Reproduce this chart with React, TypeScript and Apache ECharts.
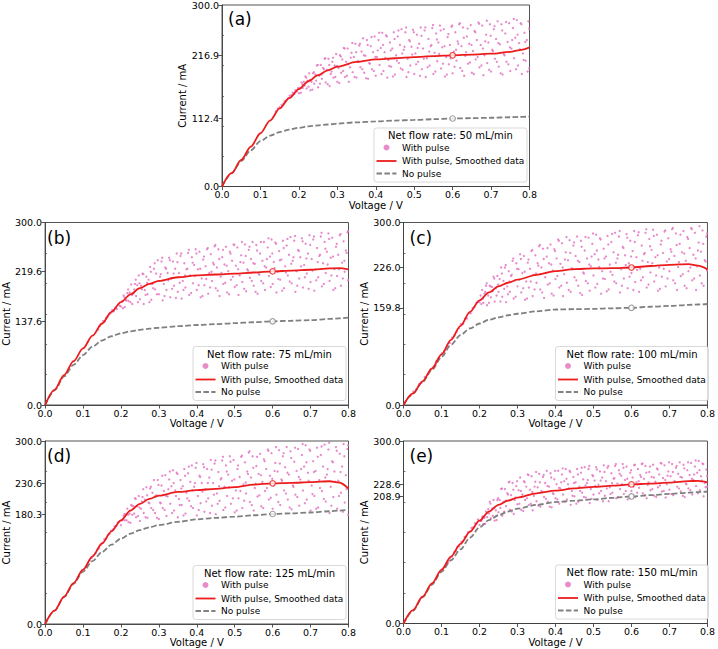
import { useEffect, useRef } from "react";
import * as echarts from "echarts";

// Voltage grid (V) used by the smoothed and no-pulse curves
const voltage = [0, 0.025, 0.05, 0.075, 0.1, 0.125, 0.15, 0.175, 0.2, 0.225, 0.25, 0.275, 0.3, 0.35, 0.4, 0.45, 0.5, 0.55, 0.6, 0.65, 0.7, 0.75, 0.775, 0.8];

// Current (mA) — smoothed pulsed data and steady (no pulse) data
const smoothed50 = [0, 22, 44, 66, 88, 109, 129, 146, 161, 174, 184, 192, 198, 206, 210, 212, 214, 215.5, 216.9, 218, 219.5, 222.5, 225.5, 230];
const noPulse50 = [0, 22, 42, 60, 75, 84, 90, 94, 97, 99.5, 101, 102.5, 104, 106, 107.5, 109, 110, 111.2, 112.4, 113, 113.6, 114.5, 115, 115.6];
const smoothed75 = [0, 25, 49, 72, 93, 114, 134, 153, 169, 182, 192, 199, 204, 210, 213, 214.5, 216, 217.8, 219.6, 221, 222.3, 224.5, 225, 223];
const noPulse75 = [0, 24, 47, 66, 82, 96, 106, 113, 118, 121, 123.5, 125.5, 127, 129.5, 131.5, 133, 134.5, 136, 137.6, 138.5, 139.5, 141.5, 142.5, 143.5];
const smoothed100 = [0, 19, 39, 60, 83, 107, 130, 153, 172, 185, 195, 201, 206, 214, 220, 223.5, 224.5, 225, 226.0, 228.5, 230.5, 231.5, 229, 223];
const noPulse100 = [0, 19, 38, 58, 79, 99, 115, 126, 134, 140, 144, 147.5, 150, 154, 157, 157.5, 158, 159, 159.8, 161.5, 163, 164.5, 165.2, 166];
const smoothed125 = [0, 22, 45, 67, 89, 111, 132, 152, 170, 186, 197, 205, 210.5, 216.5, 219.5, 221.5, 224.5, 228.5, 230.6, 231.5, 232.5, 234, 232, 222];
const noPulse125 = [0, 22, 44, 66, 86, 103, 118, 130, 140, 148, 154, 158.5, 162, 167.5, 171.5, 174, 176, 178.3, 180.3, 181.5, 182.8, 184.8, 186, 187];
const smoothed150 = [0, 22, 44, 66, 88, 110, 131, 151, 169, 184, 195, 202, 207, 214, 218.5, 222, 224.5, 226.5, 228.6, 230, 231.5, 234, 234.5, 232];
const noPulse150 = [0, 21, 43, 64, 85, 104, 122, 141, 158, 170, 178, 184, 189, 195, 199.5, 202, 204, 206.5, 208.9, 211, 213, 215, 216, 217];

// Raw pulsed measurements: [voltage in mV, current in mA]
const pulse50 = [
  [140, 124], [145, 129], [150, 131], [155, 135], [160, 137], [163, 141], [168, 143], [172, 146], [176, 150], [180, 151], [184, 155], [188, 153], [191, 159], [195, 157], [198, 163],
  [200, 154], [203, 163], [207, 172], [210, 163], [213, 173], [217, 182], [220, 162], [223, 175], [227, 187], [230, 159], [233, 173], [237, 187], [240, 170], [243, 185], [247, 200],
  [250, 164], [253, 183], [257, 201], [260, 178], [263, 196], [267, 211], [270, 172], [273, 193], [277, 211], [280, 166], [283, 186], [287, 206], [290, 180], [293, 200], [297, 219],
  [300, 173], [303, 196], [307, 217], [310, 188], [313, 210], [317, 229], [320, 181], [323, 206], [327, 228], [330, 173], [333, 197], [337, 221], [340, 189], [343, 214], [347, 236],
  [350, 180], [353, 207], [357, 233], [360, 197], [363, 223], [367, 245], [370, 188], [373, 216], [377, 242], [380, 178], [383, 204], [387, 232], [390, 194], [393, 222], [397, 248],
  [400, 183], [403, 214], [407, 242], [410, 201], [413, 229], [417, 254], [420, 191], [423, 222], [427, 250], [430, 180], [433, 209], [437, 238], [440, 198], [443, 228], [447, 255],
  [450, 185], [453, 217], [457, 248], [460, 204], [463, 234], [467, 260], [470, 193], [473, 226], [477, 255], [480, 181], [483, 211], [487, 242], [490, 200], [493, 231], [497, 259],
  [500, 186], [503, 220], [507, 251], [510, 206], [513, 236], [517, 263], [520, 194], [523, 228], [527, 258], [530, 181], [533, 212], [537, 244], [540, 200], [543, 232], [547, 262],
  [550, 186], [553, 221], [557, 253], [560, 207], [563, 238], [567, 266], [570, 195], [573, 230], [577, 260], [580, 182], [583, 214], [587, 247], [590, 202], [593, 234], [597, 264],
  [600, 187], [603, 223], [607, 255], [610, 208], [613, 240], [617, 268], [620, 196], [623, 232], [627, 263], [630, 183], [633, 216], [637, 248], [640, 203], [643, 236], [647, 267],
  [650, 188], [653, 224], [657, 257], [660, 210], [663, 242], [667, 271], [670, 197], [673, 234], [677, 266], [680, 184], [683, 217], [687, 251], [690, 204], [693, 238], [697, 268],
  [700, 190], [703, 226], [707, 260], [710, 211], [713, 244], [717, 273], [720, 198], [723, 235], [727, 268], [730, 185], [733, 219], [737, 253], [740, 206], [743, 239], [747, 270],
  [750, 191], [753, 228], [757, 262], [760, 212], [763, 246], [767, 275], [770, 200], [773, 237], [777, 270], [780, 186], [783, 220], [787, 254], [790, 208], [793, 242], [797, 273],
  [799, 195],
  [205, 155], [209, 169], [215, 167], [219, 180], [225, 165], [229, 176], [235, 160], [239, 189], [245, 175], [249, 201], [255, 170], [259, 185], [265, 194], [269, 212],
  [275, 169], [279, 201], [285, 190], [289, 213], [295, 181], [299, 199], [305, 171], [309, 215], [315, 191], [319, 228], [325, 183], [329, 202], [335, 213], [339, 237],
  [345, 181], [349, 222], [355, 206], [359, 236], [365, 194], [369, 217], [375, 179], [379, 234], [385, 203], [389, 247], [395, 191], [399, 214], [405, 225], [409, 254],
  [415, 186], [419, 234], [425, 213], [429, 248], [435, 199], [439, 225], [445, 182], [449, 244], [455, 208], [459, 258], [465, 195], [469, 220], [475, 231], [479, 263],
  [485, 189], [489, 240], [495, 218], [499, 255], [505, 202], [509, 229], [515, 183], [519, 249], [525, 211], [529, 263], [535, 197], [539, 223], [545, 234], [549, 267],
  [555, 190], [559, 243], [565, 219], [569, 258], [575, 203], [579, 232], [585, 185], [589, 252], [595, 212], [599, 266], [605, 198], [609, 226], [615, 236], [619, 270],
  [625, 191], [629, 246], [635, 222], [639, 261], [645, 205], [649, 234], [655, 186], [659, 255], [665, 214], [669, 269], [675, 200], [679, 228], [685, 240], [689, 274],
  [695, 193], [699, 249], [705, 224], [709, 265], [715, 206], [719, 237], [725, 187], [729, 258], [735, 217], [739, 272], [745, 202], [749, 230], [755, 242], [759, 277],
  [765, 194], [769, 251], [775, 227], [779, 268], [785, 209], [789, 239], [795, 190], [799, 261],
];
const pulse75 = [
  [140, 124], [144, 130], [149, 133], [153, 138], [157, 137], [161, 143], [165, 145], [169, 149], [173, 151], [177, 156], [181, 154], [185, 160], [189, 158], [193, 165], [197, 163],
  [200, 162], [203, 171], [207, 180], [210, 161], [213, 172], [217, 184], [220, 171], [223, 185], [227, 198], [230, 166], [233, 183], [237, 199], [240, 179], [243, 197], [247, 213],
  [250, 174], [253, 196], [257, 216], [260, 166], [263, 189], [267, 211], [270, 182], [273, 206], [277, 227], [280, 173], [283, 199], [287, 224], [290, 190], [293, 216], [297, 238],
  [300, 182], [303, 211], [307, 236], [310, 172], [313, 199], [317, 226], [320, 189], [323, 217], [327, 242], [330, 177], [333, 208], [337, 236], [340, 196], [343, 224], [347, 249],
  [350, 186], [353, 217], [357, 245], [360, 175], [363, 204], [367, 233], [370, 193], [373, 223], [377, 250], [380, 181], [383, 213], [387, 243], [390, 200], [393, 230], [397, 256],
  [400, 189], [403, 223], [407, 252], [410, 177], [413, 208], [417, 239], [420, 197], [423, 228], [427, 256], [430, 183], [433, 217], [437, 248], [440, 204], [443, 234], [447, 261],
  [450, 192], [453, 226], [457, 256], [460, 179], [463, 211], [467, 243], [470, 199], [473, 231], [477, 260], [480, 185], [483, 220], [487, 252], [490, 206], [493, 237], [497, 264],
  [500, 194], [503, 229], [507, 259], [510, 181], [513, 213], [517, 246], [520, 202], [523, 234], [527, 264], [530, 187], [533, 223], [537, 255], [540, 209], [543, 240], [547, 268],
  [550, 196], [553, 232], [557, 263], [560, 183], [563, 216], [567, 249], [570, 204], [573, 237], [577, 268], [580, 189], [583, 226], [587, 259], [590, 212], [593, 244], [597, 272],
  [600, 199], [603, 235], [607, 267], [610, 185], [613, 219], [617, 253], [620, 206], [623, 239], [627, 270], [630, 192], [633, 228], [637, 262], [640, 213], [643, 247], [647, 276],
  [650, 200], [653, 237], [657, 270], [660, 186], [663, 220], [667, 255], [670, 208], [673, 243], [677, 274], [680, 193], [683, 230], [687, 265], [690, 216], [693, 249], [697, 279],
  [700, 202], [703, 240], [707, 272], [710, 188], [713, 223], [717, 258], [720, 210], [723, 245], [727, 277], [730, 195], [733, 233], [737, 268], [740, 217], [743, 252], [747, 282],
  [750, 204], [753, 242], [757, 275], [760, 189], [763, 224], [767, 260], [770, 212], [773, 247], [777, 279], [780, 196], [783, 234], [787, 269], [790, 219], [793, 254], [797, 284],
  [799, 205],
  [205, 159], [209, 177], [215, 172], [219, 190], [225, 169], [229, 181], [235, 190], [239, 206], [245, 169], [249, 200], [255, 190], [259, 215], [265, 181], [269, 201],
  [275, 169], [279, 219], [285, 192], [289, 233], [295, 182], [299, 204], [305, 215], [309, 242], [315, 179], [319, 224], [325, 205], [329, 238], [335, 191], [339, 216],
  [345, 176], [349, 235], [355, 201], [359, 249], [365, 189], [369, 213], [375, 224], [379, 255], [385, 184], [389, 234], [395, 212], [399, 249], [405, 197], [409, 224],
  [415, 179], [419, 244], [425, 207], [429, 258], [435, 193], [439, 219], [445, 231], [449, 263], [455, 188], [459, 240], [465, 217], [469, 255], [475, 201], [479, 229],
  [485, 182], [489, 249], [495, 211], [499, 263], [505, 197], [509, 223], [515, 235], [519, 268], [525, 191], [529, 245], [535, 221], [539, 260], [545, 204], [549, 233],
  [555, 186], [559, 254], [565, 214], [569, 268], [575, 200], [579, 228], [585, 240], [589, 274], [595, 194], [599, 249], [605, 225], [609, 265], [615, 207], [619, 238],
  [625, 188], [629, 258], [635, 218], [639, 273], [645, 203], [649, 232], [655, 243], [659, 278], [665, 196], [669, 253], [675, 228], [679, 269], [685, 210], [689, 241],
  [695, 191], [699, 263], [705, 221], [709, 277], [715, 205], [719, 235], [725, 247], [729, 283], [735, 199], [739, 257], [745, 231], [749, 273], [755, 213], [759, 244],
  [765, 192], [769, 265], [775, 223], [779, 281], [785, 208], [789, 237], [795, 250], [799, 286],
];
const pulse100 = [
  [18, 15], [26, 22], [34, 26], [41, 34], [48, 37], [56, 46], [64, 50], [71, 58], [79, 63], [86, 72], [94, 76], [101, 85], [108, 89], [115, 98], [122, 102],
  [128, 111], [134, 115], [140, 121], [146, 126], [151, 133], [157, 133], [162, 142], [167, 142], [172, 151], [177, 151], [182, 159], [187, 161], [192, 168], [196, 169],
  [200, 169], [203, 180], [207, 189], [210, 168], [213, 183], [217, 196], [220, 164], [223, 180], [227, 196], [230, 177], [233, 194], [237, 211], [240, 170], [243, 192], [247, 212],
  [250, 186], [253, 207], [257, 226], [260, 178], [263, 204], [267, 226], [270, 169], [273, 195], [277, 220], [280, 186], [283, 212], [287, 237], [290, 175], [293, 205], [297, 233],
  [300, 195], [303, 223], [307, 248], [310, 185], [313, 217], [317, 245], [320, 173], [323, 203], [327, 234], [330, 193], [333, 224], [337, 253], [340, 179], [343, 214], [347, 246],
  [350, 201], [353, 233], [357, 261], [360, 190], [363, 226], [367, 257], [370, 176], [373, 210], [377, 244], [380, 198], [383, 233], [387, 264], [390, 183], [393, 221], [397, 256],
  [400, 207], [403, 241], [407, 272], [410, 193], [413, 232], [417, 266], [420, 179], [423, 215], [427, 251], [430, 201], [433, 238], [437, 271], [440, 186], [443, 225], [447, 262],
  [450, 210], [453, 245], [457, 277], [460, 196], [463, 235], [467, 270], [470, 181], [473, 218], [477, 254], [480, 204], [483, 241], [487, 275], [490, 188], [493, 228], [497, 265],
  [500, 213], [503, 248], [507, 280], [510, 199], [513, 239], [517, 274], [520, 183], [523, 220], [527, 257], [530, 207], [533, 244], [537, 278], [540, 190], [543, 231], [547, 268],
  [550, 214], [553, 251], [557, 283], [560, 200], [563, 241], [567, 277], [570, 185], [573, 223], [577, 260], [580, 208], [583, 246], [587, 281], [590, 192], [593, 233], [597, 270],
  [600, 217], [603, 253], [607, 286], [610, 202], [613, 243], [617, 279], [620, 186], [623, 224], [627, 262], [630, 210], [633, 248], [637, 283], [640, 193], [643, 235], [647, 273],
  [650, 218], [653, 255], [657, 288], [660, 203], [663, 243], [667, 280], [670, 188], [673, 226], [677, 264], [680, 211], [683, 250], [687, 285], [690, 195], [693, 236], [697, 274],
  [700, 220], [703, 256], [707, 289], [710, 205], [713, 245], [717, 282], [720, 189], [723, 227], [727, 265], [730, 212], [733, 251], [737, 286], [740, 196], [743, 237], [747, 276],
  [750, 220], [753, 258], [757, 291], [760, 205], [763, 247], [767, 283], [770, 189], [773, 228], [777, 267], [780, 213], [783, 252], [787, 287], [790, 196], [793, 238], [797, 277],
  [799, 221],
  [205, 166], [209, 175], [215, 186], [219, 200], [225, 168], [229, 195], [235, 187], [239, 208], [245, 180], [249, 198], [255, 170], [259, 216], [265, 191], [269, 230],
  [275, 182], [279, 203], [285, 214], [289, 241], [295, 178], [299, 224], [305, 206], [309, 240], [315, 192], [319, 219], [325, 175], [329, 239], [335, 203], [339, 255],
  [345, 190], [349, 216], [355, 229], [359, 263], [365, 185], [369, 240], [375, 217], [379, 258], [385, 200], [389, 231], [395, 180], [399, 253], [405, 212], [409, 270],
  [415, 196], [419, 226], [425, 239], [429, 276], [435, 189], [439, 250], [445, 223], [449, 267], [455, 205], [459, 237], [465, 184], [469, 260], [475, 216], [479, 276],
  [485, 200], [489, 231], [495, 244], [499, 282], [505, 193], [509, 254], [515, 227], [519, 272], [525, 208], [529, 241], [535, 187], [539, 264], [545, 219], [549, 281],
  [555, 203], [559, 234], [565, 247], [569, 286], [575, 196], [579, 258], [585, 230], [589, 275], [595, 211], [599, 244], [605, 189], [609, 268], [615, 222], [619, 284],
  [625, 205], [629, 237], [635, 250], [639, 289], [645, 198], [649, 261], [655, 233], [659, 278], [665, 213], [669, 246], [675, 191], [679, 270], [685, 224], [689, 287],
  [695, 208], [699, 240], [705, 252], [709, 291], [715, 200], [719, 263], [725, 235], [729, 280], [735, 215], [739, 249], [745, 192], [749, 273], [755, 226], [759, 289],
  [765, 208], [769, 241], [775, 254], [779, 294], [785, 200], [789, 265], [795, 236], [799, 282],
];
const pulse125 = [
  [118, 104], [123, 108], [128, 113], [133, 116], [138, 122], [142, 124], [147, 130], [152, 133], [156, 139], [161, 140], [165, 146], [170, 148], [174, 153], [179, 155], [183, 160], [188, 161], [192, 167], [196, 168],
  [200, 162], [203, 170], [207, 177], [210, 170], [213, 180], [217, 189], [220, 167], [223, 181], [227, 195], [230, 179], [233, 193], [237, 206], [240, 175], [243, 193], [247, 210],
  [250, 169], [253, 189], [257, 208], [260, 182], [263, 204], [267, 224], [270, 174], [273, 199], [277, 222], [280, 190], [283, 215], [287, 236], [290, 182], [293, 211], [297, 236],
  [300, 172], [303, 199], [307, 227], [310, 190], [313, 218], [317, 244], [320, 177], [323, 209], [327, 237], [330, 197], [333, 226], [337, 252], [340, 186], [343, 219], [347, 248],
  [350, 175], [353, 205], [357, 236], [360, 195], [363, 226], [367, 254], [370, 181], [373, 215], [377, 247], [380, 202], [383, 233], [387, 260], [390, 190], [393, 225], [397, 256],
  [400, 178], [403, 210], [407, 243], [410, 198], [413, 231], [417, 262], [420, 184], [423, 221], [427, 254], [430, 206], [433, 240], [437, 269], [440, 194], [443, 231], [447, 263],
  [450, 180], [453, 214], [457, 249], [460, 202], [463, 237], [467, 268], [470, 187], [473, 225], [477, 260], [480, 210], [483, 245], [487, 275], [490, 197], [493, 235], [497, 269],
  [500, 183], [503, 219], [507, 254], [510, 206], [513, 241], [517, 274], [520, 190], [523, 229], [527, 265], [530, 214], [533, 250], [537, 281], [540, 200], [543, 240], [547, 275],
  [550, 186], [553, 223], [557, 259], [560, 209], [563, 246], [567, 279], [570, 193], [573, 233], [577, 270], [580, 218], [583, 254], [587, 286], [590, 204], [593, 243], [597, 280],
  [600, 189], [603, 227], [607, 264], [610, 212], [613, 250], [617, 285], [620, 195], [623, 237], [627, 275], [630, 219], [633, 257], [637, 290], [640, 204], [643, 245], [647, 283],
  [650, 188], [653, 227], [657, 266], [660, 212], [663, 251], [667, 287], [670, 194], [673, 237], [677, 277], [680, 219], [683, 258], [687, 293], [690, 204], [693, 248], [697, 286],
  [700, 186], [703, 227], [707, 267], [710, 210], [713, 251], [717, 289], [720, 191], [723, 236], [727, 277], [730, 218], [733, 258], [737, 294], [740, 201], [743, 245], [747, 286],
  [750, 182], [753, 225], [757, 267], [760, 208], [763, 250], [767, 290], [770, 189], [773, 235], [777, 279], [780, 215], [783, 258], [787, 295], [790, 199], [793, 244], [797, 287],
  [799, 179],
  [205, 171], [209, 180], [215, 170], [219, 179], [225, 166], [229, 194], [235, 181], [239, 205], [245, 177], [249, 191], [255, 201], [259, 221], [265, 175], [269, 211],
  [275, 198], [279, 225], [285, 187], [289, 209], [295, 174], [299, 228], [305, 198], [309, 243], [315, 187], [319, 210], [325, 221], [329, 250], [335, 182], [339, 231],
  [345, 210], [349, 246], [355, 195], [359, 222], [365, 178], [369, 243], [375, 206], [379, 258], [385, 193], [389, 219], [395, 231], [399, 264], [405, 187], [409, 241],
  [415, 217], [419, 257], [425, 201], [429, 231], [435, 182], [439, 253], [445, 212], [449, 268], [455, 197], [459, 226], [465, 239], [469, 274], [475, 191], [479, 250],
  [485, 224], [489, 266], [495, 206], [499, 237], [505, 186], [509, 260], [515, 218], [519, 276], [525, 202], [529, 232], [535, 246], [539, 283], [545, 195], [549, 256],
  [555, 230], [559, 274], [565, 211], [569, 244], [575, 190], [579, 267], [585, 223], [589, 284], [595, 207], [599, 238], [605, 251], [609, 290], [615, 200], [619, 263],
  [625, 235], [629, 280], [635, 214], [639, 248], [645, 191], [649, 272], [655, 225], [659, 289], [665, 208], [669, 241], [675, 254], [679, 295], [685, 198], [689, 265],
  [695, 235], [699, 284], [705, 213], [709, 249], [715, 189], [719, 274], [725, 223], [729, 291], [735, 205], [739, 240], [745, 254], [749, 297], [755, 194], [759, 265],
  [765, 233], [769, 284], [775, 210], [779, 249], [785, 184], [789, 275], [795, 221], [799, 293],
];
const pulse150 = [
  [98, 85], [103, 90], [108, 93], [113, 99], [118, 101], [123, 108], [128, 110], [133, 117], [138, 119], [142, 126], [147, 127], [152, 134], [156, 135], [161, 142], [165, 143], [170, 150], [174, 151], [179, 157], [183, 158], [188, 165], [192, 164], [196, 171],
  [200, 162], [203, 169], [207, 175], [210, 163], [213, 174], [217, 184], [220, 175], [223, 188], [227, 200], [230, 173], [233, 189], [237, 203], [240, 169], [243, 186], [247, 203],
  [250, 183], [253, 203], [257, 221], [260, 177], [263, 200], [267, 221], [270, 193], [273, 214], [277, 232], [280, 187], [283, 211], [287, 231], [290, 180], [293, 203], [297, 226],
  [300, 196], [303, 219], [307, 240], [310, 187], [313, 212], [317, 234], [320, 203], [323, 225], [327, 245], [330, 195], [333, 220], [337, 242], [340, 186], [343, 210], [347, 233],
  [350, 201], [353, 224], [357, 246], [360, 192], [363, 218], [367, 241], [370, 208], [373, 231], [377, 251], [380, 200], [383, 225], [387, 247], [390, 191], [393, 214], [397, 237],
  [400, 206], [403, 229], [407, 251], [410, 197], [413, 222], [417, 245], [420, 212], [423, 234], [427, 254], [430, 204], [433, 229], [437, 251], [440, 195], [443, 218], [447, 241],
  [450, 209], [453, 232], [457, 254], [460, 200], [463, 225], [467, 248], [470, 215], [473, 237], [477, 257], [480, 207], [483, 231], [487, 254], [490, 198], [493, 221], [497, 244],
  [500, 212], [503, 235], [507, 257], [510, 203], [513, 228], [517, 250], [520, 218], [523, 240], [527, 260], [530, 210], [533, 234], [537, 256], [540, 201], [543, 224], [547, 247],
  [550, 215], [553, 238], [557, 259], [560, 206], [563, 230], [567, 252], [570, 221], [573, 243], [577, 262], [580, 213], [583, 236], [587, 258], [590, 204], [593, 226], [597, 248],
  [600, 218], [603, 240], [607, 260], [610, 208], [613, 232], [617, 254], [620, 223], [623, 244], [627, 262], [630, 214], [633, 238], [637, 259], [640, 206], [643, 228], [647, 249],
  [650, 219], [653, 241], [657, 261], [660, 210], [663, 233], [667, 255], [670, 224], [673, 245], [677, 264], [680, 217], [683, 239], [687, 260], [690, 207], [693, 229], [697, 250],
  [700, 220], [703, 242], [707, 262], [710, 211], [713, 234], [717, 256], [720, 225], [723, 246], [727, 265], [730, 217], [733, 240], [737, 261], [740, 208], [743, 230], [747, 252],
  [750, 222], [753, 244], [757, 264], [760, 212], [763, 236], [767, 258], [770, 226], [773, 248], [777, 267], [780, 219], [783, 242], [787, 263], [790, 209], [793, 231], [797, 253],
  [799, 225],
  [205, 169], [209, 176], [215, 164], [219, 181], [225, 181], [229, 197], [235, 177], [239, 190], [245, 170], [249, 206], [255, 190], [259, 222], [265, 184], [269, 202],
  [275, 212], [279, 233], [285, 184], [289, 220], [295, 207], [299, 234], [305, 197], [309, 218], [315, 185], [319, 232], [325, 206], [329, 244], [335, 197], [339, 216],
  [345, 225], [349, 249], [355, 194], [359, 232], [365, 216], [369, 244], [375, 205], [379, 226], [385, 192], [389, 240], [395, 213], [399, 251], [405, 204], [409, 223],
  [415, 232], [419, 255], [425, 200], [429, 238], [435, 222], [439, 249], [445, 210], [449, 231], [455, 197], [459, 245], [465, 218], [469, 256], [475, 208], [479, 227],
  [485, 236], [489, 259], [495, 205], [499, 242], [505, 226], [509, 253], [515, 214], [519, 235], [525, 201], [529, 249], [535, 222], [539, 259], [545, 213], [549, 231],
  [555, 239], [559, 262], [565, 208], [569, 246], [575, 229], [579, 256], [585, 218], [589, 238], [595, 206], [599, 252], [605, 225], [609, 261], [615, 215], [619, 234],
  [625, 241], [629, 263], [635, 211], [639, 248], [645, 232], [649, 258], [655, 221], [659, 240], [665, 208], [669, 253], [675, 227], [679, 263], [685, 218], [689, 236],
  [695, 243], [699, 265], [705, 213], [709, 249], [715, 233], [719, 259], [725, 222], [729, 241], [735, 210], [739, 255], [745, 229], [749, 265], [755, 219], [759, 238],
  [765, 245], [769, 268], [775, 214], [779, 252], [785, 235], [789, 262], [795, 224], [799, 243],
];

const panelLabels = ["(a)", "(b)", "(c)", "(d)", "(e)"];
const flowRates = [50, 75, 100, 125, 150];
const smoothedSets = [smoothed50, smoothed75, smoothed100, smoothed125, smoothed150];
const noPulseSets = [noPulse50, noPulse75, noPulse100, noPulse125, noPulse150];
const pulseSets = [pulse50, pulse75, pulse100, pulse125, pulse150];
const markedVoltage = 0.6;
const minorCurrentTicks = [50, 100, 150, 200, 250];

// Plot-area rectangles (px)
const rects = [
  { left: 222, top: 3.5, width: 307.5, height: 183 },
  { left: 41, top: 222.5, width: 307.5, height: 182.5 },
  { left: 403.5, top: 222.5, width: 307.5, height: 182.5 },
  { left: 41, top: 441, width: 307.5, height: 183 },
  { left: 403.5, top: 441, width: 307.5, height: 182.5 },
];

const FONT = "DejaVu Sans";
const AXIS = "#404040";
const RED = "#ec1c1c";
const GREY = "#808080";
const PINK = "#e377c2";
const DASH = [5.5, 2.4];

function buildOption() {
  const markIdx = voltage.indexOf(markedVoltage);
  const grid: any[] = [];
  const xAxis: any[] = [];
  const yAxis: any[] = [];
  const series: any[] = [];
  const graphic: any[] = [];

  rects.forEach((r, i) => {
    const smoothed = smoothedSets[i];
    const noPulse = noPulseSets[i];
    const markSmooth = smoothed[markIdx];
    const markNo = noPulse[markIdx];
    const yTicks = [0, markNo, markSmooth, 300];

    grid.push({ ...r, show: true, borderColor: AXIS, borderWidth: 0.9, backgroundColor: "transparent" });

    xAxis.push({
      type: "value", gridIndex: i, min: 0, max: 0.8, interval: 0.1,
      name: "Voltage / V", nameLocation: "middle", nameGap: 13.5,
      nameTextStyle: { fontFamily: FONT, fontSize: 10, color: "#000" },
      axisLine: { show: true, onZero: false, lineStyle: { color: AXIS, width: 0.9 } },
      axisTick: { show: true, length: 3.5, lineStyle: { color: AXIS, width: 0.9 } },
      axisLabel: { fontFamily: FONT, fontSize: 9.5, color: "#000", margin: 3, showMinLabel: true, showMaxLabel: true, formatter: (v: number) => v.toFixed(1) },
      splitLine: { show: false },
    });

    yAxis.push({
      type: "value", gridIndex: i, min: 0, max: 300,
      name: "Current / mA", nameLocation: "middle", nameGap: 27,
      nameTextStyle: { fontFamily: FONT, fontSize: 10, color: "#000" },
      axisLine: { show: true, onZero: false, lineStyle: { color: AXIS, width: 0.9 } },
      axisTick: { show: true, length: 3.5, customValues: yTicks, lineStyle: { color: AXIS, width: 0.9 } },
      axisLabel: { fontFamily: FONT, fontSize: 9.5, color: "#000", margin: 3, customValues: yTicks, formatter: (v: number) => v.toFixed(1) },
      splitLine: { show: false },
    });
    yAxis.push({
      type: "value", gridIndex: i, min: 0, max: 300,
      axisLine: { show: false },
      axisTick: { show: true, length: 2, customValues: minorCurrentTicks, lineStyle: { color: AXIS, width: 0.7 } },
      axisLabel: { show: false },
      splitLine: { show: false },
    });

    const yIdx = i * 2;
    series.push({
      name: "With pulse", type: "scatter", xAxisIndex: i, yAxisIndex: yIdx, z: 1,
      symbolSize: 2.3, silent: true,
      itemStyle: { color: PINK, opacity: 0.85 },
      data: pulseSets[i].map(([mv, ma]) => [mv / 1000, ma]),
    });
    series.push({
      name: "No pulse", type: "line", xAxisIndex: i, yAxisIndex: yIdx, z: 2,
      showSymbol: false, smooth: 0.3, smoothMonotone: "x", silent: true,
      lineStyle: { color: GREY, width: 1.8, type: DASH },
      data: voltage.map((v, k) => [v, noPulse[k]]),
    });
    series.push({
      name: "With pulse, Smoothed data", type: "line", xAxisIndex: i, yAxisIndex: yIdx, z: 3,
      showSymbol: false, smooth: 0.3, smoothMonotone: "x", silent: true,
      lineStyle: { color: RED, width: 1.8 },
      data: voltage.map((v, k) => [v, smoothed[k]]),
    });
    series.push({
      type: "scatter", xAxisIndex: i, yAxisIndex: yIdx, z: 4, silent: true,
      symbol: "circle", symbolSize: 5.5,
      data: [
        { value: [markedVoltage, markSmooth], itemStyle: { color: "#fff", borderColor: RED, borderWidth: 1.2 } },
        { value: [markedVoltage, markNo], itemStyle: { color: "#fff", borderColor: GREY, borderWidth: 1.1 } },
      ],
    });

    // panel tag
    graphic.push({
      type: "text", z: 100, x: r.left + 6, y: r.top + 15,
      style: { text: panelLabels[i], fontFamily: FONT, fontSize: 17, fill: "#000", verticalAlign: "middle", textVerticalAlign: "middle" },
    });

    // legend box
    const w = 153, h = 54;
    const x0 = r.left + r.width - 2.5 - w;
    const y0 = r.top + r.height - 4.5 - h;
    const rows = [y0 + 19.5, y0 + 33, y0 + 45.5];
    graphic.push({
      type: "rect", z: 100, shape: { x: x0, y: y0, width: w, height: h, r: 2.5 },
      style: { fill: "rgba(255,255,255,0.8)", stroke: "#cfcfcf", lineWidth: 0.8 },
    });
    graphic.push({
      type: "text", z: 101, x: x0 + w / 2, y: y0 + 7.5,
      style: { text: `Net flow rate: ${flowRates[i]} mL/min`, fontFamily: FONT, fontSize: 10, fill: "#000", align: "center", textAlign: "center", verticalAlign: "middle", textVerticalAlign: "middle" },
    });
    graphic.push({ type: "circle", z: 101, shape: { cx: x0 + 12.5, cy: rows[0], r: 3 }, style: { fill: PINK, opacity: 0.85 } });
    graphic.push({ type: "line", z: 101, shape: { x1: x0 + 2.5, y1: rows[1], x2: x0 + 22.5, y2: rows[1] }, style: { stroke: RED, lineWidth: 1.8 } });
    graphic.push({ type: "line", z: 101, shape: { x1: x0 + 2.5, y1: rows[2], x2: x0 + 22.5, y2: rows[2] }, style: { stroke: GREY, lineWidth: 1.8, lineDash: DASH } });
    ["With pulse", "With pulse, Smoothed data", "No pulse"].forEach((t, k) => {
      graphic.push({
        type: "text", z: 101, x: x0 + 28, y: rows[k],
        style: { text: t, fontFamily: FONT, fontSize: 9, fill: "#000", verticalAlign: "middle", textVerticalAlign: "middle" },
      });
    });
  });

  return { animation: false, backgroundColor: "#fff", grid, xAxis, yAxis, series, graphic };
}

export default function App() {
  const ref = useRef<HTMLDivElement>(null);
  useEffect(() => {
    if (!ref.current) return;
    const chart = echarts.init(ref.current, undefined, { renderer: "svg" });
    chart.setOption(buildOption());
    return () => chart.dispose();
  }, []);
  return <div ref={ref} style={{ position: "fixed", left: 0, top: 0, width: 718, height: 649, background: "#fff" }} />;
}
